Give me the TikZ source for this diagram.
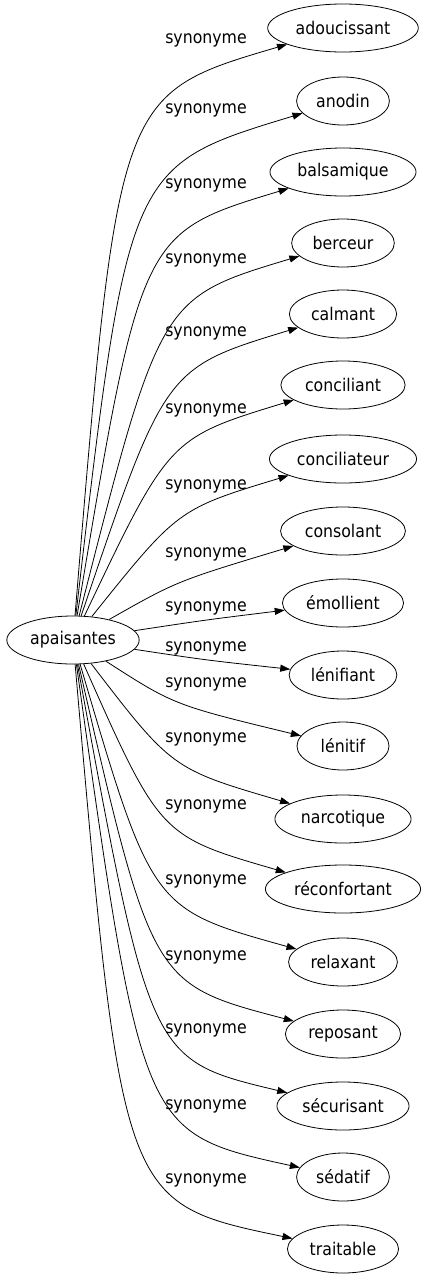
\documentclass[tikz,border=0pt]{standalone}
\usepackage{fontspec}
\setmainfont{DejaVu Sans}[FakeStretch=0.9]
\usetikzlibrary{arrows.meta,shapes.geometric}

\tikzset{
  mot/.style={draw,ellipse,line width=0.8pt,minimum height=48pt,minimum width=92pt,inner xsep=6pt,font=\fontsize{17.5}{20}\selectfont},
  syn/.style={-{Triangle[length=10pt,width=7pt]},line width=0.8pt},
  lbl/.style={font=\fontsize{17.5}{20}\selectfont,inner sep=0pt}
}

\begin{document}
\begin{tikzpicture}[x=1pt,y=-1pt]
\useasboundingbox (0,0) rectangle (428,1283);

\node[mot,inner xsep=4pt] (apaisantes) at (73,640) {apaisantes};

% nom/texte/y du mot/y du label/coin de la courbe
\foreach \nom/\mot/\ty/\ly/\cx/\cy in {
  adoucissant/adoucissant/28/40/118/94,
  anodin/anodin/101/110/128/166,
  balsamique/balsamique/172/185/141/233,
  berceur/berceur/243/260/160/298,
  calmant/calmant/314/333/165/368,
  conciliant/conciliant/385/410/169/438,
  conciliateur/conciliateur/459/486/178/509,
  consolant/consolant/531/554/177/581,
  emollient/émollient/603/608/205/620,
  lenifiant/lénifiant/675/648/205/660,
  lenitif/lénitif/746/684/174/705,
  narcotique/narcotique/819/739/172/769,
  reconfortant/réconfortant/889/806/160/836,
  relaxant/relaxant/962/881/152/909,
  reposant/reposant/1034/957/152/984,
  securisant/sécurisant/1106/1030/150/1060,
  sedatif/sédatif/1177/1106/142/1133,
  traitable/traitable/1249/1180/122/1203}{
  \node[mot] (\nom) at (343,\ty) {\mot};
  \node[lbl] (l-\nom) at (206,\ly) {synonyme};
  \draw[syn] (apaisantes) .. controls (\cx,\cy) .. (\nom);
}

\end{tikzpicture}
\end{document}
